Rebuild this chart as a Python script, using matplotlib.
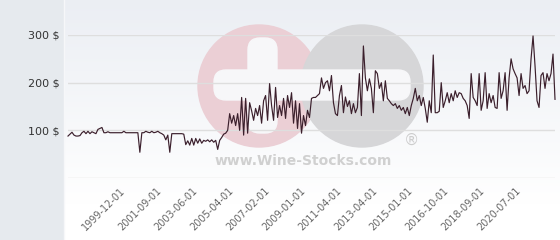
import numpy as np
import matplotlib
matplotlib.use('Agg')
import matplotlib.pyplot as plt
from matplotlib.patches import Circle, FancyBboxPatch, Rectangle

values = [
    88, 92, 96, 90, 88, 88, 89, 95, 98, 93,
    98, 93, 97, 95, 93, 102, 104, 106, 95, 95,
    97, 95, 95, 95, 95, 95, 95, 95, 98, 95,
    95, 95, 95, 95, 95, 95, 54, 95, 95, 98,
    96, 95, 98, 95, 96, 98, 95, 93, 90, 80,
    90, 54, 93, 93, 93, 93, 93, 93, 92, 70,
    78, 69, 83, 69, 83, 73, 82, 73, 79, 77,
    80, 76, 80, 75, 79, 60, 79, 85, 92, 94,
    100, 135, 115, 131, 110, 135, 100, 169, 90, 167,
    94, 158, 141, 121, 146, 131, 152, 115, 162, 173,
    121, 198, 152, 121, 190, 127, 152, 131, 167, 125,
    173, 148, 179, 115, 162, 104, 156, 94, 131, 110,
    142, 127, 167, 169, 169, 173, 177, 210, 188, 200,
    204, 183, 215, 158, 135, 131, 173, 194, 137, 170,
    150, 162, 135, 156, 137, 148, 219, 131, 277, 210,
    183, 208, 188, 137, 225, 219, 188, 200, 162, 204,
    167, 162, 156, 152, 156, 146, 152, 142, 148, 135,
    148, 131, 152, 167, 188, 162, 173, 152, 169, 146,
    117, 162, 137, 258, 137, 137, 140, 200, 148, 162,
    179, 158, 177, 162, 183, 169, 179, 177, 167, 162,
    152, 125, 219, 169, 162, 152, 219, 142, 162, 221,
    146, 177, 158, 173, 148, 146, 221, 167, 183, 221,
    142, 210, 250, 229, 219, 210, 173, 219, 188, 194,
    177, 183, 250, 298, 235, 162, 148, 215, 221, 188,
    219, 204, 219, 260, 165,
]
y_ticks = [100, 200, 300]
y_tick_labels = ['100 $', '200 $', '300 $']
x_tick_labels = ['1999-12-01', '2001-09-01', '2003-06-01', '2005-04-01',
                 '2007-02-01', '2009-01-01', '2011-04-01', '2013-04-01',
                 '2015-01-01', '2016-10-01', '2018-09-01', '2020-07-01']
first_tick = 28
tick_step = 18

fig = plt.figure(figsize=(5.6, 2.4), dpi=100)

# background layer in pixel coordinates
bg = fig.add_axes([0, 0, 1, 1], zorder=0)
bg.set_xlim(0, 560)
bg.set_ylim(240, 0)
bg.axis('off')
t = np.clip(np.linspace(0, 1, 240) / 0.85, 0, 1)[:, None, None]
top = np.array([0.922, 0.934, 0.955])
bot = np.array([1.0, 1.0, 1.0])
img = top * (1 - t) + bot * t
bg.imshow(img, extent=(63, 560, 240, 0), aspect='auto', zorder=0)
bg.add_patch(Rectangle((0, 0), 63, 240, color='#e6eaee', zorder=1))
bg.plot([63.5, 63.5], [0, 240], color='#f6f7f9', lw=1, zorder=2)

# watermark
bg.add_patch(Circle((259, 86), 61, color='#ebcfd5', zorder=3))
bg.add_patch(Circle((362, 86), 61, color='#d6d6d8', zorder=4))
bg.add_patch(FancyBboxPatch((216, 72), 192, 26, boxstyle='round,pad=2,rounding_size=12',
                            color='#f7f7f9', zorder=5))
bg.add_patch(FancyBboxPatch((250, 40), 25, 91, boxstyle='round,pad=2,rounding_size=12',
                            color='#f7f7f9', zorder=5))
bg.text(303, 161, 'www.Wine-Stocks.com', ha='center', va='center', fontsize=10,
        fontweight='bold', color='#d0d0d0', zorder=6, family='DejaVu Sans')
bg.text(412, 140, '®', ha='center', va='center', fontsize=11,
        color='#cdcdcd', zorder=6)

ax = fig.add_axes([68 / 560, 62 / 240, 487 / 560, 143 / 240], zorder=1)
ax.set_facecolor('none')
ax.set_xlim(0, len(values) - 1)
ax.set_ylim(0, 300)
for s in ax.spines.values():
    s.set_visible(False)
ax.axhline(0, color='#dedede', lw=1, zorder=1)
for yv in y_ticks:
    ax.axhline(yv, color='#dedede', lw=1, zorder=1)
ax.set_yticks(y_ticks)
ax.set_yticklabels(y_tick_labels, fontsize=8, color='#333333')
xt = [first_tick + i * tick_step for i in range(len(x_tick_labels))]
ax.set_xticks(xt)
ax.set_xticklabels(x_tick_labels, fontsize=7, color='#666666', rotation=45,
                   ha='right', va='center', rotation_mode='anchor')
ax.tick_params(axis='both', length=0)
ax.tick_params(axis='y', pad=6)
ax.tick_params(axis='x', pad=8)

ax.plot(range(len(values)), values, color='#3b1f2c', lw=0.85, clip_on=False, zorder=3)

fig.savefig('out.png', dpi=100)
